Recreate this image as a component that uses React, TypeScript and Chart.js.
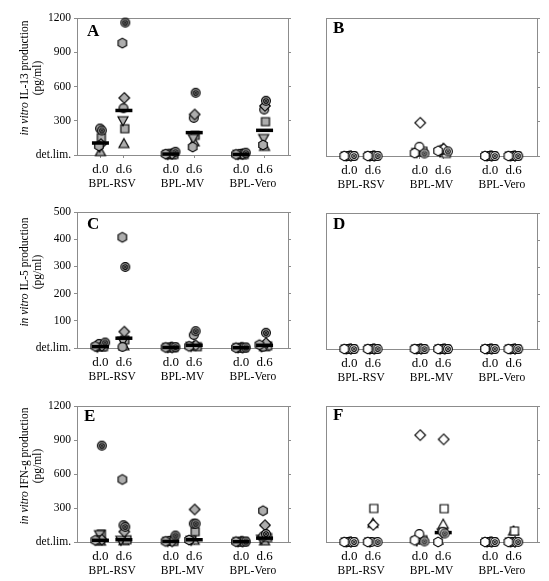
import React, { useEffect, useRef } from 'react';
import { Chart, registerables } from 'chart.js';

Chart.register(...registerables);

// ---------- DATA ----------
const groupLabels = ['BPL-RSV', 'BPL-MV', 'BPL-Vero'];
const dayLabels = ['d.0', 'd.6'];
const columnPositions = [1, 2, 4, 5, 7, 8];
const groupPositions = [1.5, 4.5, 7.5];
const donorShapes = ['dotCircle', 'hexagon', 'diamond', 'circle', 'invTriangle', 'square', 'triangle'];

const ticksIL13 = [0, 300, 600, 900, 1200];
const ticksIL5 = [0, 100, 200, 300, 400, 500];
const ticksIFN = [0, 300, 600, 900, 1200];

// columns: RSV d.0, RSV d.6, MV d.0, MV d.6, Vero d.0, Vero d.6 ; rows follow donorShapes
const il13Gray = [
  [215, 1160, 28, 545, 20, 475],
  [80, 980, 8, 70, 5, 88],
  [95, 500, 10, 355, 8, 430],
  [232, 410, 12, 325, 10, 398],
  [68, 300, 5, 145, 5, 145],
  [152, 230, 5, 172, 5, 292],
  [30, 100, 3, 115, 3, 75],
];
const il13GrayMedian = [105, 390, 8, 196, 5, 216];

const il13White = [
  [0, 0, 22, 40, 0, 0],
  [0, 0, 25, 45, 0, 0],
  [0, 0, 289, 62, 0, 0],
  [0, 0, 80, 55, 0, 0],
  [0, 0, 30, 35, 0, 0],
  [0, 0, 42, 22, 0, 0],
  [0, 0, 35, 65, 0, 0],
];
const il13WhiteMedian = [0, 0, 35, 40, 0, 0];

const il5Gray = [
  [20, 298, 3, 62, 2, 56],
  [6, 407, 2, 6, 1, 12],
  [8, 60, 2, 10, 1, 18],
  [15, 4, 2, 48, 1, 5],
  [3, 25, 2, 6, 1, 5],
  [5, 30, 2, 5, 1, 8],
  [4, 8, 2, 8, 1, 5],
];
const il5GrayMedian = [5, 36, 2, 10, 1, 10];

const il5White = [
  [0, 0, 0, 0, 0, 0],
  [0, 0, 0, 0, 0, 0],
  [0, 0, 0, 0, 0, 0],
  [0, 0, 0, 0, 0, 0],
  [0, 0, 0, 0, 0, 0],
  [0, 0, 0, 0, 0, 0],
  [0, 0, 0, 0, 0, 0],
];
const il5WhiteMedian = [0, 0, 0, 0, 0, 0];

const ifnGray = [
  [850, 134, 57, 162, 4, 71],
  [15, 552, 5, 18, 3, 276],
  [20, 91, 5, 287, 3, 148],
  [15, 148, 10, 162, 3, 50],
  [65, 15, 5, 15, 3, 25],
  [71, 20, 5, 91, 3, 40],
  [8, 12, 10, 15, 3, 10],
];
const ifnGrayMedian = [15, 20, 5, 20, 3, 34];

const ifnWhite = [
  [0, 0, 5, 75, 0, 0],
  [0, 0, 15, 0, 0, 0],
  [0, 151, 943, 906, 0, 0],
  [0, 0, 71, 90, 0, 0],
  [0, 0, 10, 80, 0, 0],
  [0, 296, 20, 294, 0, 97],
  [0, 165, 50, 157, 0, 97],
];
const ifnWhiteMedian = [0, 0, 10, 83, 0, 5];

// ---------- STYLE / LAYOUT ----------
const SERIF = '"Liberation Serif", "Times New Roman", serif';
const AXIS_GRAY = '#8c8c8c';
const GRAY_FILL = '#adadad';
const donorJitter = [0.2, -0.22, 0.06, -0.06, -0.13, 0.13, 0.0];

type PanelSpec = {
  letter: string;
  values: number[][];
  median: number[];
  ticks: number[];
  max: number;
  filled: boolean;
  showY: boolean;
  plot: { left: number; right: number; top: number; bottom: number };
  canvas: { left: number; width: number };
  letterPos: { left: number; top: number };
};

const panels: PanelSpec[] = [
  { letter: 'A', values: il13Gray, median: il13GrayMedian, ticks: ticksIL13, max: 1200, filled: true, showY: true,
    plot: { left: 77, right: 291, top: 14, bottom: 155 }, canvas: { left: 0, width: 300 }, letterPos: { left: 87, top: 22 } },
  { letter: 'B', values: il13White, median: il13WhiteMedian, ticks: ticksIL13, max: 1200, filled: false, showY: false,
    plot: { left: 326, right: 538, top: 14, bottom: 156 }, canvas: { left: 300, width: 249 }, letterPos: { left: 333, top: 19 } },
  { letter: 'C', values: il5Gray, median: il5GrayMedian, ticks: ticksIL5, max: 500, filled: true, showY: true,
    plot: { left: 77, right: 291, top: 208, bottom: 348 }, canvas: { left: 0, width: 300 }, letterPos: { left: 87, top: 215 } },
  { letter: 'D', values: il5White, median: il5WhiteMedian, ticks: ticksIL5, max: 500, filled: false, showY: false,
    plot: { left: 326, right: 538, top: 209, bottom: 349 }, canvas: { left: 300, width: 249 }, letterPos: { left: 333, top: 215 } },
  { letter: 'E', values: ifnGray, median: ifnGrayMedian, ticks: ticksIFN, max: 1200, filled: true, showY: true,
    plot: { left: 77, right: 291, top: 402, bottom: 542 }, canvas: { left: 0, width: 300 }, letterPos: { left: 84, top: 407 } },
  { letter: 'F', values: ifnWhite, median: ifnWhiteMedian, ticks: ticksIFN, max: 1200, filled: false, showY: false,
    plot: { left: 326, right: 538, top: 402, bottom: 542 }, canvas: { left: 300, width: 249 }, letterPos: { left: 333, top: 406 } },
];

const yTitles = [
  { name: 'IL-13', cx: 31, cy: 78 },
  { name: 'IL-5', cx: 31, cy: 272 },
  { name: 'IFN-g', cx: 31, cy: 466 },
];

const PAD_TOP = 8;
const X_H = 22;
const X2_H = 16;

function makeMarker(shape: string, fill: string): HTMLCanvasElement {
  const s = 14;
  const c = document.createElement('canvas');
  c.width = s;
  c.height = s;
  const g = c.getContext('2d')!;
  g.translate(s / 2, s / 2);
  g.lineWidth = 1.15;
  g.strokeStyle = '#000';
  g.fillStyle = fill;
  g.beginPath();
  switch (shape) {
    case 'circle':
    case 'dotCircle':
      g.arc(0, 0, 4.4, 0, Math.PI * 2);
      break;
    case 'hexagon':
      for (let i = 0; i < 6; i++) {
        const a = Math.PI / 6 + (i * Math.PI) / 3;
        const px = 4.9 * Math.cos(a);
        const py = 4.9 * Math.sin(a);
        if (i === 0) g.moveTo(px, py);
        else g.lineTo(px, py);
      }
      break;
    case 'diamond':
      g.moveTo(0, -5.3);
      g.lineTo(5.3, 0);
      g.lineTo(0, 5.3);
      g.lineTo(-5.3, 0);
      break;
    case 'square':
      g.rect(-4, -4, 8, 8);
      break;
    case 'triangle':
      g.moveTo(0, -5);
      g.lineTo(5, 4);
      g.lineTo(-5, 4);
      break;
    case 'invTriangle':
      g.moveTo(0, 5);
      g.lineTo(5, -4);
      g.lineTo(-5, -4);
      break;
  }
  g.closePath();
  g.fill();
  g.stroke();
  if (shape === 'dotCircle') {
    g.beginPath();
    g.arc(0, 0, 2.3, 0, Math.PI * 2);
    g.stroke();
    g.beginPath();
    g.arc(0, 0, 1, 0, Math.PI * 2);
    g.fillStyle = '#000';
    g.fill();
  }
  return c;
}

const framePlugin = {
  id: 'frame',
  beforeDatasetsDraw(chart: any) {
    const { ctx, chartArea: a } = chart;
    ctx.save();
    ctx.strokeStyle = AXIS_GRAY;
    ctx.lineWidth = 1;
    ctx.strokeRect(Math.round(a.left) + 0.5, Math.round(a.top) + 0.5, Math.round(a.right - a.left), Math.round(a.bottom - a.top));
    ctx.restore();
  },
};

function Panel({ spec }: { spec: PanelSpec }) {
  const ref = useRef<HTMLCanvasElement | null>(null);
  const canvasTop = spec.plot.top - PAD_TOP;
  const canvasHeight = PAD_TOP + (spec.plot.bottom - spec.plot.top) + X_H + X2_H;
  const yW = spec.plot.left - spec.canvas.left;
  const rW = spec.canvas.left + spec.canvas.width - spec.plot.right;

  useEffect(() => {
    if (!ref.current) return;
    const fill = spec.filled ? GRAY_FILL : '#ffffff';
    const datasets: any[] = [];
    datasets.push({
      label: 'median',
      data: spec.median.map((v, i) => ({ x: columnPositions[i], y: v })),
      pointStyle: 'line',
      pointRadius: 8.5,
      pointBorderWidth: 3.5,
      borderWidth: 3.5,
      pointBorderColor: '#000',
      borderColor: '#000',
      order: spec.filled ? 0 : 10,
      clip: false,
    });
    donorShapes.forEach((shape, d) => {
      const img = makeMarker(shape, fill);
      datasets.push({
        label: shape,
        data: spec.values[d].map((v, i) => {
          const small = v < spec.max * 0.05;
          return { x: columnPositions[i] + donorJitter[d] * (small ? 1 : 0.3), y: v };
        }),
        pointStyle: img,
        pointRadius: 5,
        order: 5,
        clip: false,
      });
    });

    const chart = new Chart(ref.current, {
      type: 'scatter',
      data: { datasets },
      options: {
        responsive: false,
        animation: false,
        events: [],
        layout: { padding: { top: PAD_TOP, left: 0, right: 0, bottom: 0 } },
        plugins: { legend: { display: false }, tooltip: { enabled: false } },
        scales: {
          x: {
            type: 'linear',
            position: 'bottom',
            min: 0,
            max: 9,
            weight: 0,
            afterBuildTicks: (s: any) => {
              s.ticks = columnPositions.map((v) => ({ value: v }));
            },
            afterFit: (s: any) => {
              s.height = X_H;
            },
            ticks: {
              callback: (_v: any, i: number) => dayLabels[i % 2],
              color: '#000',
              font: { family: SERIF, size: 13 },
              padding: 4,
              maxRotation: 0,
              autoSkip: false,
            },
            grid: { drawOnChartArea: false, drawTicks: true, tickLength: 3, color: AXIS_GRAY },
            border: { display: false },
          },
          x2: {
            type: 'linear',
            position: 'bottom',
            min: 0,
            max: 9,
            weight: 1,
            afterBuildTicks: (s: any) => {
              s.ticks = groupPositions.map((v) => ({ value: v }));
            },
            afterFit: (s: any) => {
              s.height = X2_H;
            },
            ticks: {
              callback: (_v: any, i: number) => groupLabels[i],
              color: '#000',
              font: { family: SERIF, size: 11.5 },
              padding: 0,
              maxRotation: 0,
              autoSkip: false,
            },
            grid: { display: false, drawTicks: false },
            border: { display: false },
          },
          y: {
            type: 'linear',
            position: 'left',
            min: 0,
            max: spec.max,
            afterBuildTicks: (s: any) => {
              s.ticks = spec.ticks.map((v) => ({ value: v }));
            },
            afterFit: (s: any) => {
              s.width = yW;
            },
            ticks: {
              display: spec.showY,
              callback: (v: any) => (v === 0 ? 'det.lim.' : String(v)),
              color: '#000',
              font: { family: SERIF, size: 11.5 },
              padding: 3,
            },
            grid: { drawOnChartArea: false, drawTicks: spec.showY, tickLength: 3, color: AXIS_GRAY },
            border: { display: false },
          },
          y2: {
            type: 'linear',
            position: 'right',
            min: 0,
            max: spec.max,
            afterBuildTicks: (s: any) => {
              s.ticks = spec.ticks.map((v) => ({ value: v }));
            },
            afterFit: (s: any) => {
              s.width = rW;
            },
            ticks: { display: false },
            grid: { drawOnChartArea: false, drawTicks: true, tickLength: 3, color: AXIS_GRAY },
            border: { display: false },
          },
        },
      } as any,
      plugins: [framePlugin],
    });
    return () => chart.destroy();
  }, []);

  return (
    <canvas
      ref={ref}
      width={spec.canvas.width}
      height={canvasHeight}
      style={{ position: 'absolute', left: spec.canvas.left, top: canvasTop, width: spec.canvas.width, height: canvasHeight }}
    />
  );
}

export default function App() {
  return (
    <div style={{ position: 'absolute', left: 0, top: 0, width: 549, height: 581, background: '#fff', overflow: 'hidden' }}>
      {panels.map((p) => (
        <Panel key={p.letter} spec={p} />
      ))}
      {panels.map((p) => (
        <div
          key={'l' + p.letter}
          style={{
            position: 'absolute',
            left: p.letterPos.left,
            top: p.letterPos.top,
            fontFamily: SERIF,
            fontWeight: 'bold',
            fontSize: 17,
            lineHeight: '17px',
            color: '#000',
          }}
        >
          {p.letter}
        </div>
      ))}
      {yTitles.map((t) => (
        <div
          key={'t' + t.name}
          style={{
            position: 'absolute',
            left: t.cx - 100,
            top: t.cy - 13,
            width: 200,
            height: 26,
            transform: 'rotate(-90deg)',
            textAlign: 'center',
            fontFamily: SERIF,
            fontSize: 11.5,
            lineHeight: '13px',
            color: '#000',
            whiteSpace: 'nowrap',
          }}
        >
          <i>in vitro</i> {t.name} production
          <br />
          (pg/ml)
        </div>
      ))}
    </div>
  );
}
